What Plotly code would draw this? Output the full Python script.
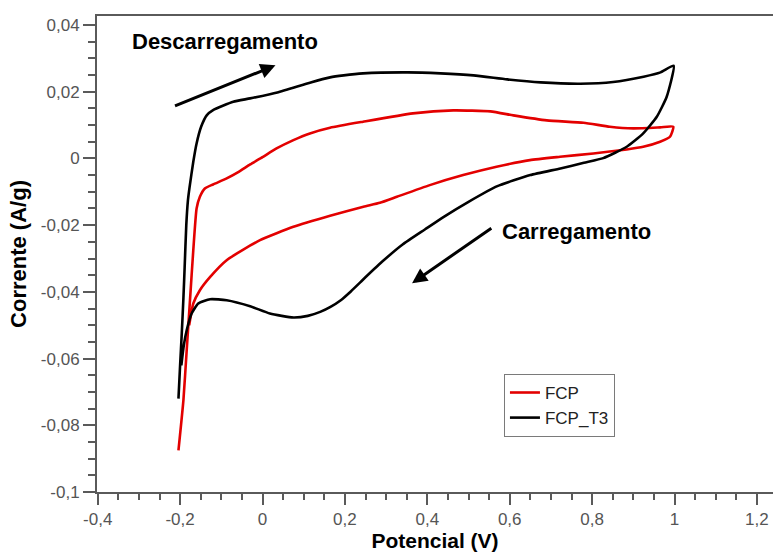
import plotly.graph_objects as go

# Cyclic voltammetry, potential (V) vs current (A/g)
fcp_x = [-0.204, -0.192, -0.184, -0.176, -0.168, -0.160, -0.152, -0.140, -0.120,
         -0.087, -0.060, -0.030, 0.000, 0.034, 0.075, 0.115, 0.164, 0.244, 0.365,
         0.463, 0.553, 0.609, 0.690, 0.779, 0.843, 0.900, 0.965, 0.997, 0.989,
         0.965, 0.924, 0.884, 0.803, 0.722, 0.649, 0.568, 0.487, 0.406, 0.326,
         0.285, 0.245, 0.164, 0.075, -0.006, -0.087, -0.127, -0.152, -0.168, -0.178]
fcp_y = [-0.0875, -0.0725, -0.0575, -0.0425, -0.0275, -0.0150, -0.0115, -0.0090,
         -0.0078, -0.0060, -0.0042, -0.0018, 0.0004, 0.0030, 0.0055, 0.0075, 0.0092,
         0.0110, 0.0135, 0.0144, 0.0141, 0.0129, 0.0114, 0.0107, 0.0095, 0.0090,
         0.0093, 0.0095, 0.0065, 0.0050, 0.0035, 0.0027, 0.0015, 0.0005, -0.0005,
         -0.0025, -0.0050, -0.0080, -0.0115, -0.0133, -0.0145, -0.0172, -0.0205,
         -0.0245, -0.0305, -0.0355, -0.0395, -0.0435, -0.0500]

fcp_t3_x = [-0.204, -0.200, -0.196, -0.192, -0.189, -0.185, -0.181, -0.177, -0.168,
            -0.160, -0.149, -0.135, -0.120, -0.071, -0.030, 0.036, 0.117, 0.164,
            0.197, 0.244, 0.352, 0.432, 0.512, 0.594, 0.675, 0.771, 0.851, 0.925,
            0.966, 0.998, 0.981, 0.957, 0.924, 0.884, 0.827, 0.780, 0.723, 0.650,
            0.570, 0.500, 0.440, 0.394, 0.340, 0.290, 0.240, 0.215, 0.190, 0.165,
            0.140, 0.110, 0.075, 0.018, -0.030, -0.087, -0.127, -0.156, -0.172,
            -0.184, -0.191, -0.197]
fcp_t3_y = [-0.0720, -0.0620, -0.0526, -0.0420, -0.0327, -0.0200, -0.0126, -0.0086,
            -0.0010, 0.0045, 0.0095, 0.0130, 0.0145, 0.0170, 0.0180, 0.0198, 0.0228,
            0.0243, 0.0249, 0.0255, 0.0258, 0.0255, 0.0249, 0.0237, 0.0228, 0.0224,
            0.0229, 0.0245, 0.0258, 0.0278, 0.0185, 0.0125, 0.0075, 0.0035, 0.0001,
            -0.0013, -0.0030, -0.0050, -0.0083, -0.0130, -0.0175, -0.0213, -0.0258,
            -0.0310, -0.0368, -0.0398, -0.0425, -0.0445, -0.0460, -0.0472, -0.0477,
            -0.0465, -0.0443, -0.0425, -0.0422, -0.0435, -0.0465, -0.0515, -0.0560,
            -0.0620]

x_tick_vals = [-0.4, -0.2, 0, 0.2, 0.4, 0.6, 0.8, 1, 1.2]
x_tick_text = ["-0,4", "-0,2", "0", "0,2", "0,4", "0,6", "0,8", "1", "1,2"]
y_tick_vals = [0.04, 0.02, 0, -0.02, -0.04, -0.06, -0.08, -0.1]
y_tick_text = ["0,04", "0,02", "0", "-0,02", "-0,04", "-0,06", "-0,08", "-0,1"]

axis_grey = "#5a5a5a"
label_font = dict(family="Arial, Liberation Sans, sans-serif", size=17, color="#555555")
title_font = dict(family="Arial, Liberation Sans, sans-serif", size=21, color="#000000")

fig = go.Figure()
fig.add_trace(go.Scatter(x=fcp_x, y=fcp_y, mode="lines", name="FCP",
                         line=dict(color="#e30000", width=2.6, shape="spline", smoothing=0.5)))
fig.add_trace(go.Scatter(x=fcp_t3_x, y=fcp_t3_y, mode="lines", name="FCP_T3",
                         line=dict(color="#000000", width=2.6, shape="spline", smoothing=0.5)))

fig.update_xaxes(
    range=[-0.4017, 1.239], tickmode="array", tickvals=x_tick_vals, ticktext=x_tick_text,
    ticks="outside", ticklen=11, tickwidth=1.5, tickcolor=axis_grey,
    showline=True, linecolor=axis_grey, linewidth=2, mirror=True,
    showgrid=False, zeroline=False, tickfont=label_font,
    minor=dict(tickmode="linear", tick0=0, dtick=0.05, ticks="outside", ticklen=6,
               tickwidth=1.5, tickcolor=axis_grey, showgrid=False),
    title=dict(text="<b>Potencial (V)</b>", font=title_font, standoff=9),
)
fig.update_yaxes(
    range=[-0.1, 0.0427], tickmode="array", tickvals=y_tick_vals, ticktext=y_tick_text,
    ticks="outside", ticklen=12, tickwidth=1.5, tickcolor=axis_grey,
    showline=True, linecolor=axis_grey, linewidth=2,
    showgrid=False, zeroline=False, tickfont=label_font,
    minor=dict(tickmode="linear", tick0=0, dtick=0.005, ticks="outside", ticklen=7,
               tickwidth=1.5, tickcolor=axis_grey, showgrid=False),
    title=dict(text="<b>Corrente (A/g)</b>", font=dict(title_font, size=22), standoff=8),
)

ann_font = dict(family="Arial, Liberation Sans, sans-serif", size=22, color="#000000")
fig.add_annotation(x=0.0315, y=0.0279, ax=-0.216, ay=0.0156, xref="x", yref="y",
                   axref="x", ayref="y", text="", showarrow=True, arrowhead=2,
                   arrowsize=1, arrowwidth=3, arrowcolor="#000000")
fig.add_annotation(x=0.363, y=-0.0374, ax=0.559, ay=-0.0206, xref="x", yref="y",
                   axref="x", ayref="y", text="", showarrow=True, arrowhead=2,
                   arrowsize=1, arrowwidth=3, arrowcolor="#000000")
fig.add_annotation(x=-0.092, y=0.0352, xref="x", yref="y", text="<b>Descarregamento</b>",
                   showarrow=False, font=ann_font)
fig.add_annotation(x=0.762, y=-0.0218, xref="x", yref="y", text="<b>Carregamento</b>",
                   showarrow=False, font=ann_font)

fig.update_layout(
    width=773, height=552,
    margin=dict(l=97, r=0, t=16, b=60, autoexpand=False),
    plot_bgcolor="#ffffff", paper_bgcolor="#ffffff",
    showlegend=True,
    legend=dict(x=0.602, y=0.248, xanchor="left", yanchor="top",
                bordercolor="#7a7a7a", borderwidth=1, bgcolor="#ffffff",
                font=dict(family="Arial, Liberation Sans, sans-serif", size=17,
                          color="#222222"),
                tracegroupgap=0),
)

fig.write_html("out.html")
